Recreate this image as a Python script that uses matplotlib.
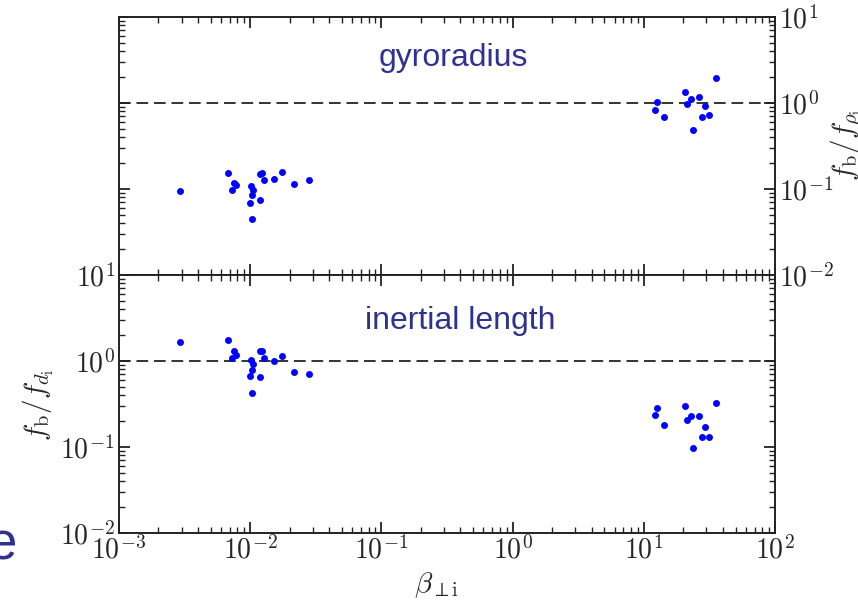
import matplotlib
matplotlib.use("Agg")
import matplotlib.pyplot as plt
from matplotlib.ticker import LogLocator, FuncFormatter, NullFormatter
import numpy as np

plt.rcParams['mathtext.fontset'] = 'cm'

# low-beta group
beta_low = [0.00292, 0.0068, 0.0073, 0.00757, 0.00783, 0.01014, 0.01056, 0.00997, 0.0104,
            0.01026, 0.0119, 0.01236, 0.0128, 0.0119, 0.0152, 0.0174, 0.0216, 0.0282]
rho_low = [0.095, 0.154, 0.0975, 0.119, 0.111, 0.107, 0.0966, 0.0695, 0.0853,
           0.0451, 0.149, 0.152, 0.128, 0.0747, 0.130, 0.156, 0.113, 0.126]
d_low = [1.67, 1.77, 1.09, 1.30, 1.19, 1.03, 0.914, 0.664, 0.787,
         0.428, 1.30, 1.31, 1.08, 0.653, 1.00, 1.13, 0.739, 0.714]

# high-beta group
beta_high = [12.7, 12.2, 14.3, 20.6, 21.5, 22.8, 26.5, 29.3, 27.6, 31.5, 23.8, 35.3]
rho_high = [1.03, 0.83, 0.68, 1.34, 0.965, 1.10, 1.18, 0.92, 0.69, 0.72, 0.48, 1.94]
d_high = [0.287, 0.236, 0.181, 0.297, 0.207, 0.230, 0.230, 0.173, 0.131, 0.129, 0.098, 0.322]

xlim = (1e-3, 1e2)
ylim = (1e-2, 1e1)

fig = plt.figure(figsize=(8.58, 6.06), dpi=100)
L, R = 119/858, 775/858
T, M, B = 1-17/606, 1-275/606, 1-533/606
ax1 = fig.add_axes([L, M, R-L, T-M])
ax2 = fig.add_axes([L, B, R-L, M-B])

tick_color = '#262626'
fmt = FuncFormatter(lambda v, p: r'$\mathrm{10^{%d}}$' % int(round(np.log10(v))))

for ax, xs_l, ys_l, xs_h, ys_h in [(ax1, beta_low, rho_low, beta_high, rho_high),
                                    (ax2, beta_low, d_low, beta_high, d_high)]:
    ax.set_xscale('log')
    ax.set_yscale('log')
    ax.set_xlim(*xlim)
    ax.set_ylim(*ylim)
    ax.axhline(1.0, color='#333333', lw=1.4, ls=(0, (6, 3)), zorder=1)
    ax.plot(xs_l, ys_l, 'o', color='#0000ff', ms=5, mec='none', zorder=3)
    ax.plot(xs_h, ys_h, 'o', color='#0000ff', ms=5, mec='none', zorder=3)
    for s in ax.spines.values():
        s.set_linewidth(1.4)
        s.set_color('#222222')
    ax.xaxis.set_major_locator(LogLocator(base=10, numticks=10))
    ax.xaxis.set_minor_locator(LogLocator(base=10, subs=np.arange(2, 10), numticks=20))
    ax.yaxis.set_major_locator(LogLocator(base=10, numticks=10))
    ax.yaxis.set_minor_locator(LogLocator(base=10, subs=np.arange(2, 10), numticks=20))
    ax.tick_params(which='both', direction='in', top=True, bottom=True, left=True, right=True,
                   color='#222222', labelsize=20, labelcolor=tick_color)
    ax.tick_params(which='major', length=8, width=1.3)
    ax.tick_params(which='minor', length=4, width=1.0)
    ax.yaxis.set_major_formatter(fmt)
    ax.yaxis.set_minor_formatter(NullFormatter())
    ax.xaxis.set_minor_formatter(NullFormatter())

ax1.tick_params(axis='x', labelbottom=False)
ax1.tick_params(axis='y', labelleft=False, labelright=True, pad=3)
ax2.xaxis.set_major_formatter(fmt)
ax2.tick_params(axis='x', pad=2)
ax2.tick_params(axis='y', labelleft=True, labelright=False, pad=3)

text_color = '#2e3192'
ax1.text(0.510, 0.84, 'gyroradius', transform=ax1.transAxes, color=text_color,
         fontsize=23, family='Liberation Sans', ha='center', va='center')
ax2.text(0.52, 0.82, 'inertial length', transform=ax2.transAxes, color=text_color,
         fontsize=23, family='Liberation Sans', ha='center', va='center')

fig.text(846/858, 1-145/606, r'$f_{\mathrm{b}}/f_{\rho_{\mathrm{i}}}$', rotation=90,
         ha='center', va='center', fontsize=21, color=tick_color)
fig.text(38/858, 1-405/606, r'$f_{\mathrm{b}}/f_{d_{\mathrm{i}}}$', rotation=90,
         ha='center', va='center', fontsize=21, color=tick_color)
fig.text(436/858, 1-585/606, r'$\beta_{\perp\mathrm{i}}$', ha='center', va='center',
         fontsize=21, color=tick_color)
fig.text(17/858, 1-545/606, 'e', ha='right', va='center', fontsize=38,
         family='Liberation Sans', color=text_color)

fig.savefig('out.png', dpi=100)
